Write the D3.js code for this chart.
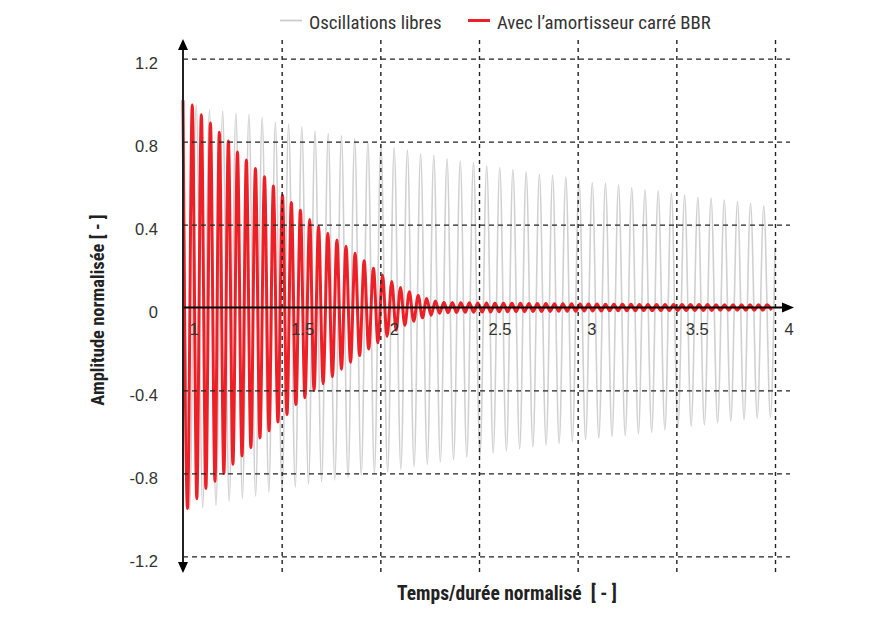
<!DOCTYPE html>
<html><head><meta charset="utf-8">
<script src="https://cdn.jsdelivr.net/npm/d3@7"></script>
<style>body{margin:0;background:#fff} svg{display:block;background:#fff}</style>
</head><body>
<svg id="c" width="887" height="625"></svg>
<script>
// ---------- DATA ----------
// Free oscillations (grey): successive maxima and minima
const grayPeakT = [1.000,1.067,1.134,1.201,1.268,1.334,1.401,1.468,1.535,1.602,1.669,1.736,1.803,1.870,1.937,2.003,2.070,2.137,2.204,2.271,2.338,2.405,2.472,2.539,2.605,2.672,2.739,2.806,2.873,2.940,3.007,3.074,3.141,3.207,3.274,3.341,3.408,3.475,3.542,3.609,3.676,3.743,3.810,3.876,3.943];
const grayPeakV = [0.990,0.978,0.955,0.947,0.938,0.932,0.917,0.893,0.885,0.872,0.851,0.839,0.828,0.815,0.798,0.789,0.772,0.759,0.743,0.734,0.717,0.708,0.699,0.683,0.675,0.666,0.654,0.643,0.639,0.630,0.614,0.603,0.600,0.592,0.577,0.568,0.563,0.550,0.542,0.531,0.528,0.518,0.511,0.502,0.490];
const grayTroughT = [1.033,1.100,1.167,1.234,1.301,1.368,1.435,1.502,1.569,1.636,1.702,1.769,1.836,1.903,1.970,2.037,2.104,2.171,2.238,2.304,2.371,2.438,2.505,2.572,2.639,2.706,2.773,2.840,2.906,2.973,3.040,3.107,3.174,3.241,3.308,3.375,3.442,3.508,3.575,3.642,3.709,3.776,3.843,3.910,3.977];
const grayTroughV = [-0.975,-0.965,-0.955,-0.935,-0.921,-0.909,-0.890,-0.880,-0.867,-0.852,-0.841,-0.832,-0.821,-0.809,-0.800,-0.795,-0.780,-0.768,-0.757,-0.745,-0.735,-0.722,-0.712,-0.702,-0.692,-0.682,-0.673,-0.664,-0.655,-0.647,-0.638,-0.630,-0.622,-0.618,-0.610,-0.602,-0.590,-0.581,-0.572,-0.566,-0.556,-0.548,-0.541,-0.533,-0.528];
const grayEnd = [4.000, 0.290];

// With the BBR square damper (red): successive maxima and minima
const redPeakT = [1.000,1.047,1.093,1.139,1.184,1.230,1.276,1.321,1.367,1.413,1.458,1.504,1.549,1.595,1.642,1.687,1.734,1.780,1.826,1.872,1.918,1.965,2.011,2.058,2.102,2.147,2.192,2.235,2.279,
  2.322,2.365,2.408,2.451,2.494,2.538,2.581,2.624,2.667,2.710,2.753,2.796,2.839,2.882,2.925,2.969,3.012,3.055,3.098,3.141,3.184,3.227,3.270,3.313,3.356,3.400,3.443,3.486,3.529,3.572,3.615,3.658,3.701,3.744,3.787,3.830,3.874,3.917,3.960];
const redPeakV = [1.000,0.977,0.930,0.890,0.845,0.803,0.750,0.712,0.670,0.631,0.586,0.541,0.506,0.469,0.425,0.392,0.358,0.326,0.296,0.262,0.226,0.189,0.157,0.125,0.097,0.076,0.058,0.043,0.031,
  0.025,0.024,0.023,0.023,0.022,0.022,0.021,0.021,0.020,0.020,0.019,0.019,0.019,0.018,0.018,0.018,0.017,0.017,0.017,0.016,0.016,0.016,0.016,0.015,0.015,0.015,0.015,0.014,0.014,0.014,0.014,0.014,0.013,0.013,0.013,0.013,0.013,0.013,0.013];
const redTroughT = [1.023,1.070,1.116,1.162,1.207,1.253,1.299,1.344,1.390,1.436,1.481,1.527,1.572,1.618,1.664,1.710,1.757,1.803,1.849,1.895,1.941,1.988,2.034,2.080,2.124,2.169,2.213,2.257,2.300,
  2.343,2.386,2.430,2.473,2.516,2.559,2.602,2.645,2.688,2.731,2.774,2.817,2.861,2.904,2.947,2.990,3.033,3.076,3.119,3.162,3.205,3.249,3.292,3.335,3.378,3.421,3.464,3.507,3.550,3.594,3.637,3.680,3.723,3.766,3.809,3.852,3.895,3.938,3.982];
const redTroughV = [-0.970,-0.922,-0.873,-0.838,-0.801,-0.756,-0.716,-0.676,-0.629,-0.595,-0.552,-0.516,-0.468,-0.435,-0.402,-0.368,-0.334,-0.298,-0.264,-0.232,-0.200,-0.170,-0.140,-0.110,-0.086,-0.066,-0.050,-0.037,-0.028,
  -0.025,-0.024,-0.023,-0.023,-0.022,-0.022,-0.021,-0.021,-0.020,-0.020,-0.019,-0.019,-0.019,-0.018,-0.018,-0.018,-0.017,-0.017,-0.017,-0.016,-0.016,-0.016,-0.016,-0.015,-0.015,-0.015,-0.015,-0.014,-0.014,-0.014,-0.014,-0.014,-0.013,-0.013,-0.013,-0.013,-0.013,-0.013,-0.013];

const xTicks = [1, 1.5, 2, 2.5, 3, 3.5, 4];
const xTickLabels = ["1", "1.5", "2", "2.5", "3", "3.5", "4"];
const xGrid = [1.5, 2, 2.5, 3, 3.5, 4];
const yTicks = [1.2, 0.8, 0.4, 0, -0.4, -0.8, -1.2];
const yTickLabels = ["1.2", "0.8", "0.4", "0", "-0.4", "-0.8", "-1.2"];
const yGrid = [1.2, 0.8, 0.4, -0.4, -0.8, -1.2];
const seriesNames = ["Oscillations libres", "Avec l\u2019amortisseur carr\u00e9 BBR"];
const xTitle = "Temps/dur\u00e9e normalis\u00e9  [ - ]";
const yTitle = "Amplitude normalis\u00e9e [ - ]";

// ---------- DRAWING ----------
const svg = d3.select("#c");
const NARROW = "'Liberation Sans Narrow','Roboto Condensed','DejaVu Sans Condensed',sans-serif";
const REG = "'Liberation Sans','Roboto',sans-serif";
const x = d3.scaleLinear().domain([1, 4]).range([183, 775]);
const y = d3.scaleLinear().domain([-1.2, 1.2]).range([556.3, 58.7]);

const pairs = (T, V) => T.map((t, i) => [t, V[i]]);
const grayPts = pairs(grayPeakT, grayPeakV).concat(pairs(grayTroughT, grayTroughV), [grayEnd]).sort((a, b) => a[0] - b[0]);
const redPts = pairs(redPeakT, redPeakV).concat(pairs(redTroughT, redTroughV)).sort((a, b) => a[0] - b[0]);

const line = d3.line().x(d => x(d[0])).y(d => y(d[1])).curve(d3.curveMonotoneX);

svg.append("path").attr("d", line(grayPts)).attr("fill", "none")
  .attr("stroke", "#d0d0d0").attr("stroke-width", 1.6);
svg.append("path").attr("d", line(redPts)).attr("fill", "none")
  .attr("stroke", "#ee2027").attr("stroke-width", 3).attr("stroke-linejoin", "round");

// grid lines (drawn over the curves, as in the reference)
const gH = svg.append("g").attr("transform", "translate(183,0)")
  .call(d3.axisRight(y).tickValues(yGrid).tickSize(607).tickFormat(""));
gH.select(".domain").remove();
gH.selectAll("line").attr("stroke", "#222").attr("stroke-width", 1.2).attr("stroke-dasharray", "5,4");

const gV = svg.append("g").attr("transform", "translate(0,40)")
  .call(d3.axisBottom(x).tickValues(xGrid).tickSize(533).tickFormat(""));
gV.select(".domain").remove();
gV.selectAll("line").attr("stroke", "#222").attr("stroke-width", 1.4).attr("stroke-dasharray", "4,4");

// axes lines with arrows
const y0 = y(0);
svg.append("line").attr("x1", x(1)).attr("x2", 784).attr("y1", y0).attr("y2", y0)
  .attr("stroke", "#000").attr("stroke-width", 2);
svg.append("path").attr("d", `M782,${y0 - 5}L794,${y0}L782,${y0 + 5}Z`).attr("fill", "#000");
svg.append("line").attr("x1", x(1)).attr("x2", x(1)).attr("y1", 48).attr("y2", 564)
  .attr("stroke", "#222").attr("stroke-width", 2);
svg.append("path").attr("d", `M${x(1) - 5},50L${x(1)},39L${x(1) + 5},50Z`).attr("fill", "#000");
svg.append("path").attr("d", `M${x(1) - 5},562L${x(1)},573L${x(1) + 5},562Z`).attr("fill", "#000");

// tick labels
const gY = svg.append("g").attr("transform", "translate(183,0)")
  .call(d3.axisLeft(y).tickValues(yTicks).tickSize(0).tickPadding(25).tickFormat((d, i) => yTickLabels[i]));
gY.select(".domain").remove();
gY.selectAll("text").attr("font-family", REG).attr("font-size", 16.5).attr("fill", "#333").attr("dy", "0.6em");

const gX = svg.append("g").attr("transform", `translate(0,${y0})`)
  .call(d3.axisBottom(x).tickValues(xTicks).tickSize(0).tickFormat((d, i) => xTickLabels[i]));
gX.select(".domain").remove();
gX.selectAll("text").attr("font-family", REG).attr("font-size", 16.5).attr("fill", "#333")
  .attr("text-anchor", "start").attr("x", (d, i) => i === 0 ? 6 : 9).attr("y", 27.5).attr("dy", 0);

// axis titles
svg.append("text").attr("x", 507).attr("y", 600).attr("text-anchor", "middle")
  .attr("font-family", NARROW).attr("font-weight", "bold").attr("font-size", 19.5)
  .attr("fill", "#222").style("white-space", "pre").text(xTitle);
svg.append("text").attr("transform", "translate(104,310) rotate(-90)").attr("text-anchor", "middle")
  .attr("font-family", NARROW).attr("font-weight", "bold").attr("font-size", 18.5)
  .attr("fill", "#222").style("white-space", "pre").text(yTitle);

// legend
const legend = [{x: 280, color: "#cdcdcd", w: 1.8}, {x: 468, color: "#ee2027", w: 3}];
legend.forEach((l, i) => {
  svg.append("line").attr("x1", l.x).attr("x2", l.x + 22).attr("y1", 20.5).attr("y2", 20.5)
    .attr("stroke", l.color).attr("stroke-width", l.w);
  svg.append("text").attr("x", l.x + 29).attr("y", 28.5).attr("font-family", NARROW)
    .attr("font-size", 18.8).attr("fill", "#333").text(seriesNames[i]);
});
</script>
</body></html>
